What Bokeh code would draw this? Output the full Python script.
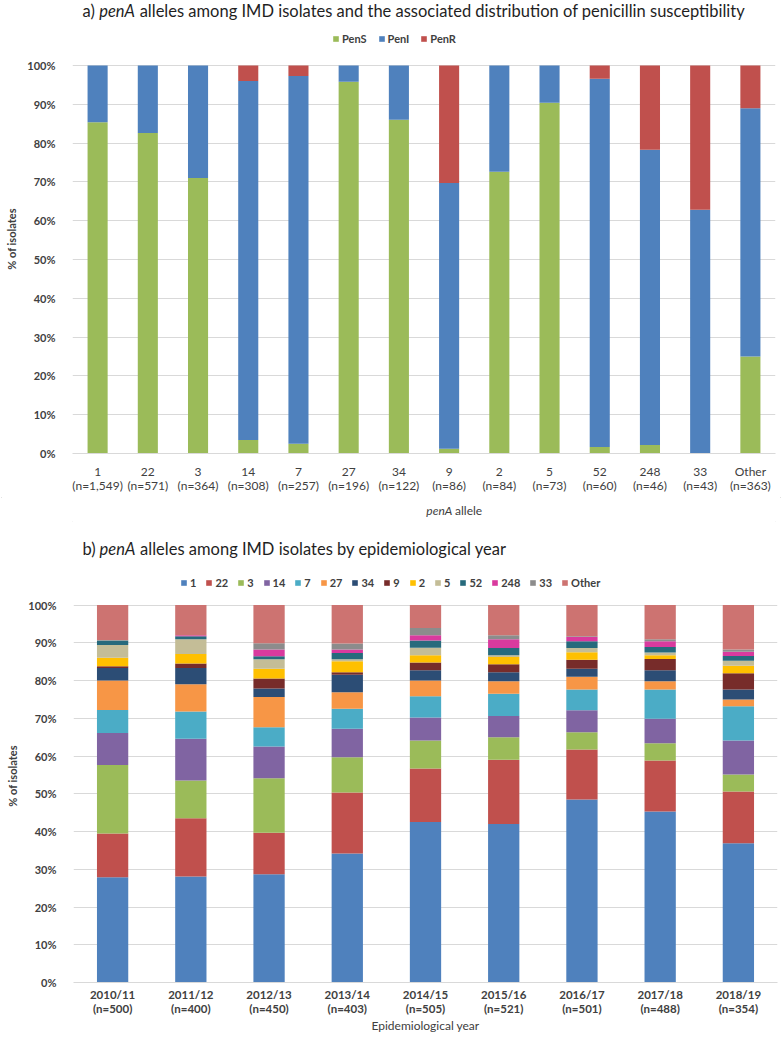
from bokeh.plotting import figure
from bokeh.models import (FactorRange, Range1d, FixedTicker, PrintfTickFormatter,
                          Label, ColumnDataSource, CategoricalAxis)
from bokeh.layouts import column
from bokeh.embed import file_html
from bokeh.resources import INLINE

FONT = "Lato"
TXT = "#404040"
TITLE_C = "#1f1f1f"
GRID = "#D9D9D9"
W = 782

# ---------------- data: chart a ----------------
alleles = ["1", "22", "3", "14", "7", "27", "34", "9", "2", "5", "52", "248", "33", "Other"]
allele_n = ["1,549", "571", "364", "308", "257", "196", "122", "86", "84", "73", "60", "46", "43", "363"]
pen_s = [85.4, 82.6, 71.0, 3.5, 2.5, 95.8, 86.0, 1.2, 72.6, 90.4, 1.7, 2.2, 0.0, 25.0]
pen_i = [14.6, 17.4, 29.0, 92.5, 94.8, 4.2, 14.0, 68.5, 27.4, 9.6, 94.9, 76.1, 62.8, 64.0]
pen_r = [0.0, 0.0, 0.0, 4.0, 2.7, 0.0, 0.0, 30.3, 0.0, 0.0, 3.4, 21.7, 37.2, 11.0]
sus_labels = ["PenS", "PenI", "PenR"]
sus_colors = ["#9BBB59", "#4F81BD", "#C0504D"]

# ---------------- data: chart b ----------------
years = ["2010/11", "2011/12", "2012/13", "2013/14", "2014/15", "2015/16", "2016/17", "2017/18", "2018/19"]
year_n = ["500", "400", "450", "403", "505", "521", "501", "488", "354"]
s_1 = [27.9, 28.1, 28.7, 34.2, 42.5, 42.0, 48.5, 45.3, 36.9]
s_22 = [11.6, 15.4, 11.0, 16.1, 14.2, 17.0, 13.2, 13.5, 13.7]
s_3 = [18.1, 10.0, 14.4, 9.4, 7.4, 6.0, 4.6, 4.6, 4.5]
s_14 = [8.5, 11.1, 8.4, 7.5, 6.1, 5.6, 5.8, 6.5, 9.0]
s_7 = [6.1, 7.2, 5.1, 5.3, 5.6, 5.9, 5.5, 7.7, 9.1]
s_27 = [7.8, 7.2, 8.0, 4.4, 4.2, 3.3, 3.4, 2.2, 1.8]
s_34 = [3.3, 4.3, 2.3, 4.6, 2.7, 2.4, 2.1, 2.9, 2.6]
s_9 = [0.5, 1.2, 2.6, 0.7, 2.1, 2.1, 2.4, 3.0, 4.3]
s_2 = [2.2, 2.5, 2.6, 2.9, 1.9, 1.9, 2.0, 1.0, 2.0]
s_5 = [3.4, 3.9, 2.5, 0.5, 2.0, 0.5, 1.1, 0.7, 1.3]
s_52 = [1.1, 0.8, 0.8, 1.7, 1.9, 1.9, 1.8, 1.5, 1.3]
s_248 = [0.0, 0.3, 1.8, 0.9, 1.4, 2.3, 1.1, 1.5, 1.1]
s_33 = [0.2, 0.0, 1.7, 1.6, 1.9, 1.1, 0.2, 0.5, 0.6]
s_other = [9.3, 8.0, 10.1, 10.2, 6.1, 8.0, 8.3, 9.1, 11.8]
series_names = ["1", "22", "3", "14", "7", "27", "34", "9", "2", "5", "52", "248", "33", "Other"]
series_values = [s_1, s_22, s_3, s_14, s_7, s_27, s_34, s_9, s_2, s_5, s_52, s_248, s_33, s_other]
series_colors = ["#4F81BD", "#C0504D", "#9BBB59", "#8064A2", "#4BACC6", "#F79646", "#2C4D75",
                 "#772C2A", "#FFC000", "#C4BD97", "#276A7C", "#D93A9E", "#8C8C8C", "#CD7371"]

pct_ticks = list(range(0, 101, 10))
BOX_STYLE = {"outline": "1px solid #D9D9D9", "outline-offset": "-2px"}


def style_chart(p):
    p.outline_line_color = None
    p.background_fill_color = "white"
    p.border_fill_color = "white"
    p.xgrid.visible = False
    p.ygrid.grid_line_color = GRID
    p.ygrid.grid_line_width = 1
    ya = p.yaxis[0]
    ya.ticker = FixedTicker(ticks=pct_ticks)
    ya.formatter = PrintfTickFormatter(format="%d%%")
    ya.major_tick_line_color = None
    ya.minor_tick_line_color = None
    ya.axis_line_color = None
    ya.major_label_text_font = FONT
    ya.major_label_text_color = TXT
    ya.major_label_text_font_size = "11px"
    ya.major_label_text_font_style = "bold"
    ya.major_label_standoff = 11
    ya.axis_label = "% of isolates"
    ya.axis_label_text_font = FONT
    ya.axis_label_text_color = TXT
    ya.axis_label_text_font_size = "11px"
    ya.axis_label_text_font_style = "bold"
    ya.axis_label_standoff = 6


def style_xaxis(ax, size, bold, standoff, line_color):
    ax.major_tick_line_color = None
    ax.minor_tick_line_color = None
    ax.major_tick_out = 0
    ax.major_tick_in = 0
    ax.axis_line_color = line_color
    ax.major_label_text_font = FONT
    ax.major_label_text_color = TXT
    ax.major_label_text_font_size = size
    ax.major_label_text_font_style = "bold" if bold else "normal"
    ax.major_label_standoff = standoff
    ax.axis_label_text_font = FONT
    ax.axis_label_text_color = TXT


def style_legend(leg, x, y, spacing):
    leg.orientation = "horizontal"
    leg.location = (x, y)
    leg.glyph_width = 7
    leg.glyph_height = 7
    leg.label_standoff = 3
    leg.label_width = 0
    leg.spacing = spacing
    leg.padding = 0
    leg.margin = 0
    leg.label_height = 12
    leg.label_text_font = FONT
    leg.label_text_font_size = "11px"
    leg.label_text_font_style = "bold"
    leg.label_text_color = TXT
    leg.background_fill_alpha = 0
    leg.border_line_alpha = 0


def text_fig(h):
    t = figure(width=W, height=h, x_range=Range1d(0, W), y_range=Range1d(0, h),
               min_border=0, x_axis_location=None, y_axis_location=None,
               toolbar_location=None, output_backend="svg")
    t.grid.visible = False
    t.outline_line_color = None
    t.background_fill_color = "white"
    t.border_fill_color = "white"
    return t


def text_label(p, x, y, text, size, style="normal", align="left", color=TITLE_C):
    p.add_layout(Label(x=x, y=y, text=text,
                       text_font=FONT, text_font_size=size, text_font_style=style,
                       text_align=align, text_baseline="middle", text_color=color))


TA = "16.5px"
TX0 = 10                  # title left
W1, W2 = 18.5, 45         # advance of "a) " and of "penA " at the title size

# ---------------- title a ----------------
ta = text_fig(22)
text_label(ta, TX0, 12, "a)", TA)
text_label(ta, TX0 + W1, 12, "penA", TA, style="italic")
text_label(ta, TX0 + W1 + W2, 12,
           "alleles among IMD isolates and the associated distribution of penicillin susceptibility", TA)

# ---------------- chart a ----------------
FW_A, FH_A = 703, 429
YA_END = 100 * FH_A / 388
pa = figure(x_range=FactorRange(factors=alleles), y_range=Range1d(0, YA_END),
            frame_width=FW_A, frame_height=FH_A,
            min_border_left=72, min_border_right=7, min_border_top=2, min_border_bottom=44,
            output_backend="svg", toolbar_location=None)
pa.extra_x_ranges = {"n": FactorRange(factors=[f"(n={n})" for n in allele_n])}
src_a = ColumnDataSource(dict(allele=alleles, PenS=pen_s, PenI=pen_i, PenR=pen_r))
pa.vbar_stack(sus_labels, x="allele", width=0.4, color=sus_colors, line_color=None,
              source=src_a, legend_label=sus_labels)
style_chart(pa)
style_xaxis(pa.xaxis[0], "12px", False, 10, GRID)
ax2a = CategoricalAxis(x_range_name="n")
style_xaxis(ax2a, "12px", False, -4, None)
pa.add_layout(ax2a, "below")
style_legend(pa.legend[0], 260, FH_A - 21, 11)

# x axis title with italic gene name
la = text_fig(26)
cx = 72 + FW_A / 2
text_label(la, cx - 1, 13, "penA", "12px", style="italic", align="right", color=TXT)
text_label(la, cx + 2, 13, "allele", "12px", align="left", color=TXT)

box_a = column(pa, la, spacing=0, styles=BOX_STYLE)

# ---------------- title b ----------------
tb = text_fig(43)
text_label(tb, TX0, 18, "b)", TA)
text_label(tb, TX0 + W1 + 0.5, 18, "penA", TA, style="italic")
text_label(tb, TX0 + W1 + 0.5 + W2, 18, "alleles among IMD isolates by epidemiological year", TA)

# ---------------- chart b ----------------
FW_B, FH_B = 704, 413
YB_END = 100 * FH_B / 377.5
pb = figure(x_range=FactorRange(factors=years), y_range=Range1d(0, YB_END),
            frame_width=FW_B, frame_height=FH_B,
            min_border_left=73, min_border_right=5, min_border_top=3, min_border_bottom=62,
            output_backend="svg", toolbar_location=None, styles=BOX_STYLE)
pb.extra_x_ranges = {"n": FactorRange(factors=[f"(n={n})" for n in year_n])}
data_b = dict(year=years)
for nm, vals in zip(series_names, series_values):
    data_b["s" + nm] = vals
src_b = ColumnDataSource(data_b)
pb.vbar_stack(["s" + nm for nm in series_names], x="year", width=0.4, color=series_colors,
              line_color=None, source=src_b, legend_label=series_names)
style_chart(pb)
style_xaxis(pb.xaxis[0], "11.5px", True, 5, GRID)
ax2b = CategoricalAxis(x_range_name="n")
style_xaxis(ax2b, "11.5px", True, -2, None)
ax2b.axis_label = "Epidemiological year"
ax2b.axis_label_text_font_size = "12px"
ax2b.axis_label_text_font_style = "normal"
ax2b.axis_label_standoff = 0
pb.add_layout(ax2b, "below")
style_legend(pb.legend[0], 107, FH_B - 20, 9)

layout = column(ta, box_a, tb, pb, spacing=0)
open("out.html", "w").write(file_html(layout, INLINE))
